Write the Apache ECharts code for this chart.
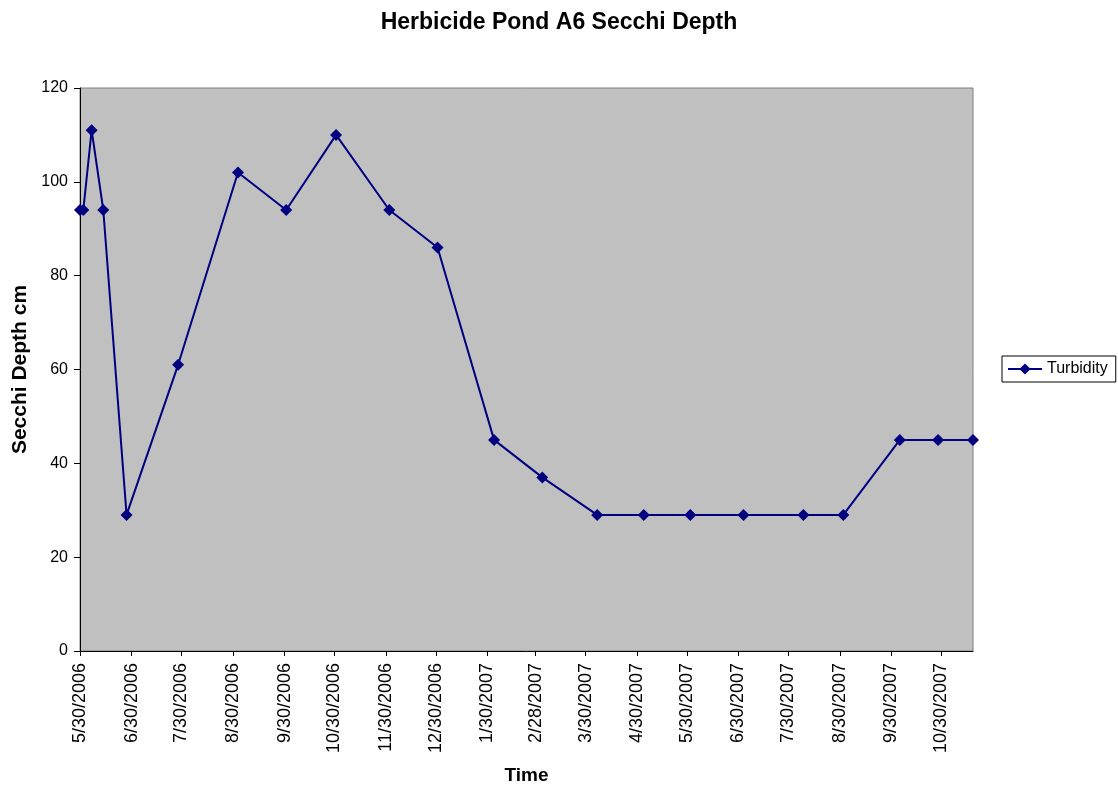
<!DOCTYPE html>
<html>
<head>
<meta charset="utf-8">
<title>Herbicide Pond A6 Secchi Depth</title>
<script src="https://cdn.jsdelivr.net/npm/echarts@6/dist/echarts.min.js"></script>
<style>
  html, body { margin: 0; padding: 0; background: #ffffff; }
  #chart { width: 1118px; height: 791px; }
</style>
</head>
<body>
<div id="chart"></div>
<script>
// Sampling dates and Secchi depth readings in cm
const sampleDates = [
  '2006-05-30', '2006-06-01', '2006-06-06', '2006-06-13', '2006-06-27',
  '2006-07-28', '2006-09-02', '2006-10-01', '2006-10-31', '2006-12-02',
  '2006-12-31', '2007-02-03', '2007-03-04', '2007-04-06', '2007-05-04',
  '2007-06-01', '2007-07-03', '2007-08-08', '2007-09-01', '2007-10-05',
  '2007-10-28', '2007-11-18'
];
const turbidity = [
  94, 94, 111, 94, 29,
  61, 102, 94, 110, 94,
  86, 45, 37, 29, 29,
  29, 29, 29, 29, 45,
  45, 45
];
// Monthly tick labels along the date axis
const tickDates = [
  '2006-05-30', '2006-06-30', '2006-07-30', '2006-08-30', '2006-09-30',
  '2006-10-30', '2006-11-30', '2006-12-30', '2007-01-30', '2007-02-28',
  '2007-03-30', '2007-04-30', '2007-05-30', '2007-06-30', '2007-07-30',
  '2007-08-30', '2007-09-30', '2007-10-30'
];
const yTicks = [0, 20, 40, 60, 80, 100, 120];

function toTime(s) {
  const p = s.split('-').map(Number);
  return new Date(p[0], p[1] - 1, p[2]).getTime();
}
function fmtDate(v) {
  const d = new Date(v);
  return (d.getMonth() + 1) + '/' + d.getDate() + '/' + d.getFullYear();
}

const seriesData = sampleDates.map((s, i) => [toTime(s), turbidity[i]]);
const tickValues = tickDates.map(toTime);

const FONT = '"Liberation Sans", Arial, sans-serif';
const NAVY = '#000080';

const chart = echarts.init(document.getElementById('chart'), null, { renderer: 'canvas' });
chart.setOption({
  backgroundColor: '#ffffff',
  animation: false,
  title: {
    text: 'Herbicide Pond A6 Secchi Depth',
    left: 'center',
    top: 6,
    textStyle: { fontFamily: FONT, fontSize: 23, fontWeight: 'bold', color: '#000000' }
  },
  legend: {
    left: 1002,
    top: 356,
    orient: 'vertical',
    borderColor: '#000000',
    borderWidth: 1,
    padding: [5, 8, 5, 5],
    itemWidth: 34,
    itemHeight: 14,
    textStyle: { fontFamily: FONT, fontSize: 16, color: '#000000' },
    data: ['Turbidity']
  },
  grid: {
    left: 80,
    right: 145,
    top: 88,
    bottom: 140,
    show: true,
    backgroundColor: '#c0c0c0',
    borderColor: '#808080',
    borderWidth: 1,
    containLabel: false
  },
  xAxis: {
    type: 'value',
    min: toTime(sampleDates[0]),
    max: toTime(sampleDates[sampleDates.length - 1]),
    name: 'Time',
    nameLocation: 'middle',
    nameGap: 115,
    nameTextStyle: { fontFamily: FONT, fontSize: 19, fontWeight: 'bold', color: '#000000' },
    axisLine: { show: true, lineStyle: { color: '#000000', width: 1 } },
    axisTick: { show: true, inside: false, length: 5, customValues: tickValues,
      lineStyle: { color: '#000000' } },
    axisLabel: {
      show: true,
      customValues: tickValues,
      rotate: 90,
      margin: 12,
      fontFamily: FONT,
      fontSize: 18,
      color: '#000000',
      hideOverlap: false,
      formatter: (v) => fmtDate(v)
    },
    splitLine: { show: false }
  },
  yAxis: {
    type: 'value',
    min: yTicks[0],
    max: yTicks[yTicks.length - 1],
    interval: yTicks[1] - yTicks[0],
    name: 'Secchi Depth cm',
    nameLocation: 'middle',
    nameGap: 48,
    nameRotate: 90,
    nameTextStyle: { fontFamily: FONT, fontSize: 21, fontWeight: 'bold', color: '#000000' },
    axisLine: { show: true, lineStyle: { color: '#000000', width: 1 } },
    axisTick: { show: true, inside: false, length: 6, lineStyle: { color: '#000000' } },
    axisLabel: { margin: 12, fontFamily: FONT, fontSize: 16, color: '#000000' },
    splitLine: { show: false }
  },
  series: [{
    name: 'Turbidity',
    type: 'line',
    data: seriesData,
    symbol: 'diamond',
    symbolSize: 12,
    showAllSymbol: true,
    itemStyle: { color: NAVY, borderWidth: 0 },
    lineStyle: { color: NAVY, width: 2 },
    emphasis: { disabled: true }
  }]
});
</script>
</body>
</html>
